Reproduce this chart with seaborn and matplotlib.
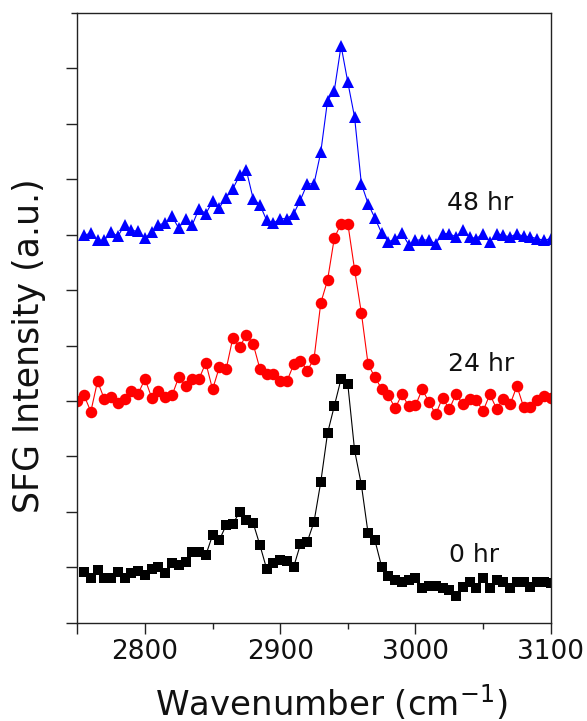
import numpy as np
import pandas as pd
import matplotlib
matplotlib.use("Agg")
import matplotlib.pyplot as plt
import seaborn as sns

# ---------------- data ----------------
# wavenumber grids (cm^-1), regular 5 cm^-1 scan steps
wn_0hr = np.arange(2755, 3101, 5)    # 70 points
wn_24hr = np.arange(2750, 3101, 5)   # 71 points
wn_48hr = np.arange(2755, 3101, 5)   # 70 points

sfg_0hr = [0.92, 0.81, 0.95, 0.81, 0.81, 0.92, 0.81, 0.90, 0.93, 0.86,
           0.97, 1.01, 0.90, 1.08, 1.04, 1.10, 1.28, 1.28, 1.22, 1.58,
           1.49, 1.76, 1.78, 2.00, 1.85, 1.80, 1.40, 0.97, 1.08, 1.13,
           1.11, 1.01, 1.42, 1.46, 1.82, 2.54, 3.42, 3.91, 4.40, 4.30,
           3.11, 2.49, 1.61, 1.49, 1.01, 0.84, 0.77, 0.74, 0.77, 0.80,
           0.63, 0.67, 0.67, 0.63, 0.59, 0.49, 0.65, 0.73, 0.63, 0.81,
           0.63, 0.77, 0.73, 0.63, 0.73, 0.73, 0.65, 0.73, 0.74, 0.72]

sfg_24hr = [4.00, 4.10, 3.81, 4.36, 4.03, 4.07, 3.97, 4.03, 4.18, 4.13,
            4.40, 4.06, 4.18, 4.07, 4.10, 4.43, 4.28, 4.39, 4.40, 4.69,
            4.21, 4.61, 4.57, 5.14, 4.97, 5.20, 5.03, 4.58, 4.48, 4.49,
            4.36, 4.36, 4.66, 4.73, 4.55, 4.76, 5.77, 6.18, 6.94, 7.20,
            7.20, 6.37, 5.59, 4.66, 4.43, 4.22, 4.10, 3.87, 4.12, 3.91,
            3.92, 4.21, 3.98, 3.76, 4.06, 3.85, 4.13, 3.94, 4.04, 4.01,
            3.82, 4.12, 3.86, 4.04, 3.94, 4.27, 3.89, 3.89, 4.01, 4.09,
            4.05]

sfg_48hr = [6.99, 7.03, 6.90, 6.90, 7.05, 6.97, 7.18, 7.08, 7.06, 6.94,
            7.05, 7.18, 7.21, 7.33, 7.12, 7.29, 7.18, 7.47, 7.38, 7.60,
            7.49, 7.67, 7.83, 8.07, 8.16, 7.65, 7.54, 7.26, 7.21, 7.29,
            7.29, 7.38, 7.63, 7.92, 7.92, 8.49, 9.42, 9.60, 10.41, 9.75,
            9.12, 7.92, 7.56, 7.30, 7.03, 6.87, 6.93, 7.03, 6.82, 6.90,
            6.91, 6.90, 6.84, 7.02, 7.02, 6.96, 7.08, 6.96, 6.93, 7.02,
            6.87, 7.02, 6.99, 6.96, 7.02, 6.97, 6.96, 6.93, 6.90, 6.93]

series_labels = ["0 hr", "24 hr", "48 hr"]
x_major_ticks = [2750, 2800, 2900, 3000, 3100]
x_major_labels = ["", "2800", "2900", "3000", "3100"]
x_minor_ticks = [2850, 2950, 3050]
y_ticks = [0, 1, 2, 3, 4, 5, 6, 7, 8, 9, 10]

# ---------------- style ----------------
sns.set_style("ticks")
plt.rcParams["font.family"] = ["DejaVu Sans"]
plt.rcParams["mathtext.fontset"] = "dejavusans"

fig = plt.figure(figsize=(5.87, 7.21), dpi=100)
ax = fig.add_axes([0.1317, 0.1363, 0.8065, 0.8456])

styles = [
    dict(x=wn_0hr, y=sfg_0hr, color="#000000", marker="s", ms=7.2),
    dict(x=wn_24hr, y=sfg_24hr, color="#ff0000", marker="o", ms=8.3),
    dict(x=wn_48hr, y=sfg_48hr, color="#0000ff", marker="^", ms=9.0),
]
for st in styles:
    df = pd.DataFrame({"wn": st["x"], "sfg": st["y"]})
    sns.lineplot(data=df, x="wn", y="sfg", ax=ax, color=st["color"],
                 marker=st["marker"], markersize=st["ms"],
                 markeredgewidth=0, linewidth=0.8, sort=False,
                 estimator=None, clip_on=True)

ax.set_xlim(2750, 3100)
ax.set_ylim(0, 11)

ax.set_xticks(x_major_ticks)
ax.set_xticklabels(x_major_labels)
ax.set_xticks(x_minor_ticks, minor=True)
ax.set_yticks(y_ticks)
ax.set_yticklabels([])
ax.set_yticks([11], minor=True)

ax.tick_params(axis="x", which="major", direction="out", length=8,
               width=1.0, labelsize=19, pad=4, colors="#222222",
               labelcolor="#111111")
ax.tick_params(axis="x", which="minor", direction="out", length=4.5,
               width=1.0, colors="#222222")
ax.tick_params(axis="y", which="major", direction="out", length=8,
               width=1.0, colors="#222222")
ax.tick_params(axis="y", which="minor", direction="out", length=4,
               width=1.0, colors="#222222")

for sp in ax.spines.values():
    sp.set_visible(True)
    sp.set_linewidth(1.0)
    sp.set_color("#222222")

ax.set_xlabel("Wavenumber (cm$^{-1}$)", fontsize=24.5, color="#111111")
ax.xaxis.label.set_va("baseline")
ax.xaxis.set_label_coords(0.537, -0.1514)

ax.set_ylabel("SFG Intensity (a.u.)", fontsize=25, color="#111111")
ax.yaxis.label.set_va("baseline")
ax.yaxis.set_label_coords(-0.0815, 0.454)

label_pos = [(3025, 1.10), (3024, 4.54), (3023, 7.45)]
for txt, (lx, ly) in zip(series_labels, label_pos):
    ax.text(lx, ly, txt, fontsize=18, ha="left", va="baseline",
            color="#111111")

fig.savefig("out.png", dpi=100)
